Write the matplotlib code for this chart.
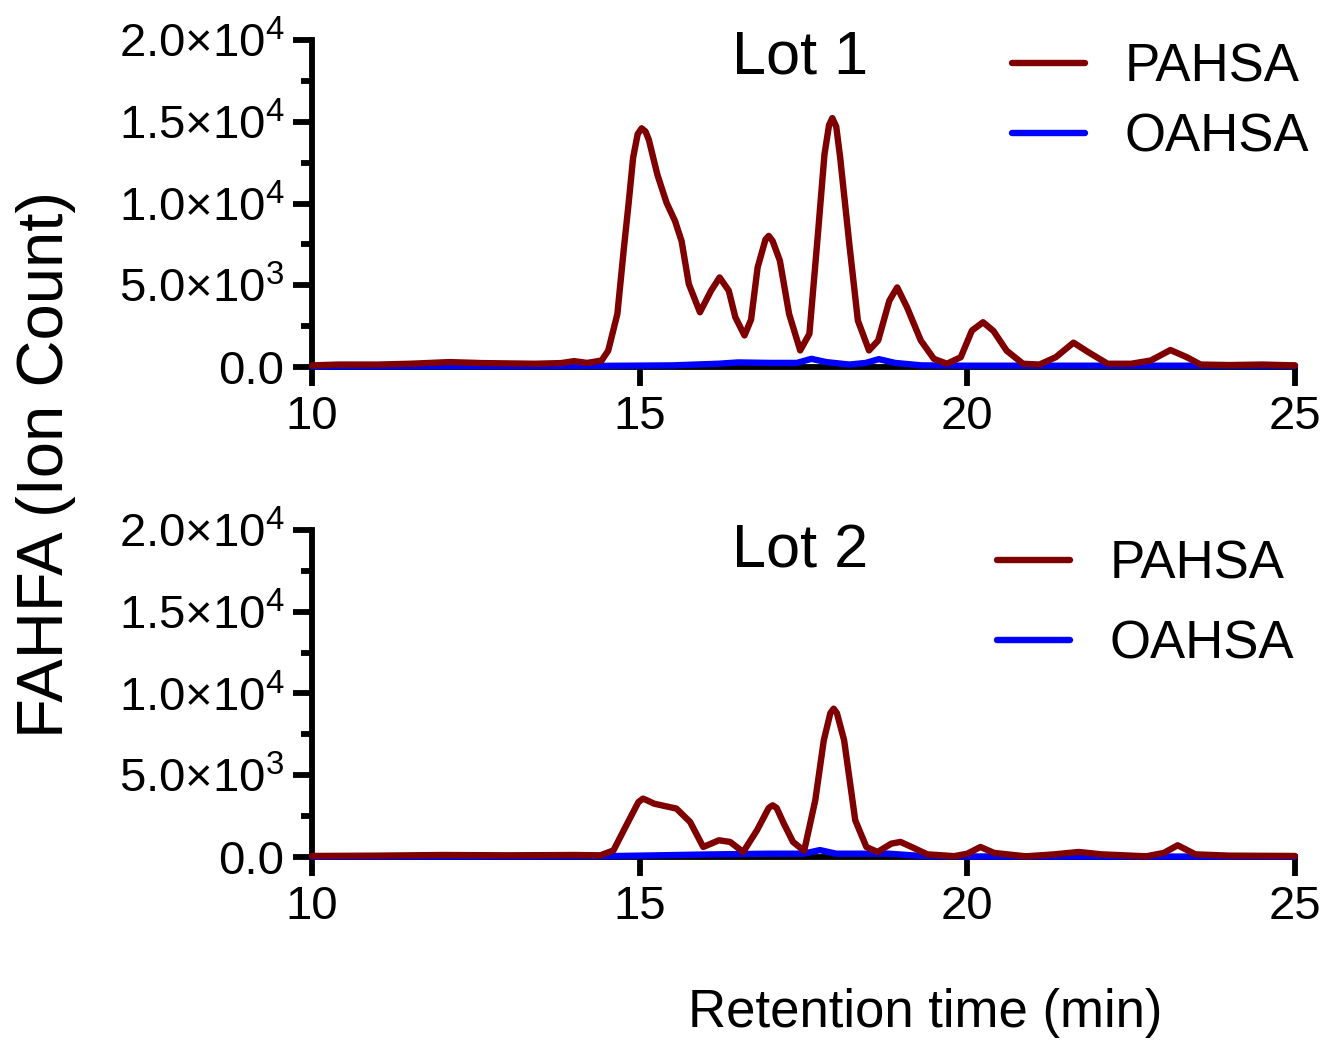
import matplotlib
matplotlib.use("Agg")
import matplotlib.pyplot as plt
from matplotlib.ticker import MultipleLocator

plt.rcParams['font.family'] = ['Liberation Sans', 'DejaVu Sans']
plt.rcParams['mathtext.fontset'] = 'custom'
plt.rcParams['mathtext.rm'] = 'Liberation Sans'
plt.rcParams['mathtext.it'] = 'Liberation Sans'

# Lot 1 - PAHSA (retention time in min, ion count)
lot1_t = [10.0, 10.4, 11.0, 11.5, 12.1, 12.6, 13.4, 13.8, 14.0, 14.2, 14.42, 14.52,
          14.66, 14.76, 14.83, 14.9, 14.97, 15.03, 15.09, 15.14, 15.27, 15.41, 15.54,
          15.64, 15.75, 15.92, 16.09, 16.22, 16.36, 16.46, 16.6, 16.7, 16.8, 16.92,
          16.97, 17.03, 17.14, 17.28, 17.45, 17.59, 17.72, 17.82, 17.89, 17.94, 18.0,
          18.06, 18.2, 18.33, 18.5, 18.64, 18.81, 18.93, 19.08, 19.29, 19.49, 19.69,
          19.9, 20.07, 20.24, 20.4, 20.6, 20.85, 21.1, 21.35, 21.62, 21.85, 22.14,
          22.5, 22.8, 23.1, 23.35, 23.56, 24.0, 24.5, 25.0]
lot1_pahsa = [100, 150, 150, 200, 300, 240, 200, 240, 360, 250, 400, 1000,
              3250, 7300, 9950, 12800, 14250, 14600, 14400, 13900, 11770, 10050, 8930,
              7700, 5075, 3350, 4670, 5480, 4670, 3045, 1930, 2900, 6090, 7800,
              8020, 7700, 6500, 3250, 1015, 2030, 8120, 13000, 14800, 15225, 14700,
              12800, 7500, 2840, 1015, 1625, 4060, 4870, 3650, 1625, 500, 200,
              600, 2230, 2740, 2200, 1000, 200, 150, 600, 1490, 900, 200,
              200, 400, 1040, 600, 150, 120, 150, 100]

# Lot 1 - OAHSA
lot1_ot = [10.0, 12.0, 14.0, 14.8, 15.5, 16.2, 16.5, 17.0, 17.4, 17.62, 17.85, 18.2,
           18.45, 18.65, 18.9, 19.3, 20.0, 22.0, 25.0]
lot1_oahsa = [40, 50, 60, 80, 100, 200, 280, 250, 250, 500, 300, 150,
              250, 480, 250, 100, 80, 80, 80]

# Lot 2 - PAHSA
lot2_t = [10.0, 11.0, 12.0, 13.0, 14.0, 14.4, 14.6, 14.81, 14.98, 15.05, 15.12, 15.22,
          15.56, 15.77, 15.97, 16.21, 16.38, 16.58, 16.79, 16.97, 17.03, 17.09, 17.2,
          17.34, 17.51, 17.68, 17.81, 17.91, 17.96, 18.01, 18.12, 18.29, 18.46, 18.63,
          18.84, 18.98, 19.15, 19.39, 19.8, 20.0, 20.2, 20.41, 20.89, 21.3, 21.7,
          22.05, 22.73, 23.0, 23.21, 23.48, 24.0, 25.0]
lot2_pahsa = [60, 80, 120, 100, 120, 100, 400, 2040, 3350, 3570, 3450, 3260,
              2960, 2140, 610, 1020, 920, 305, 1630, 3000, 3160, 3000, 2040,
              920, 370, 3470, 7140, 8800, 9070, 8800, 7140, 2240, 610, 305,
              815, 920, 610, 160, 50, 200, 610, 245, 40, 150, 305,
              160, 40, 250, 715, 160, 80, 60]

# Lot 2 - OAHSA
lot2_ot = [10.0, 13.0, 14.5, 15.0, 16.0, 17.0, 17.5, 17.75, 18.0, 18.8, 19.3, 20.0, 25.0]
lot2_oahsa = [20, 30, 50, 80, 150, 200, 200, 420, 200, 200, 60, 30, 20]

yticks = [0, 5000, 10000, 15000, 20000]
ytick_labels = ['0.0', r'$5.0{\times}10^{3}$', r'$1.0{\times}10^{4}$',
                r'$1.5{\times}10^{4}$', r'$2.0{\times}10^{4}$']
xticks = [10, 15, 20, 25]

fig = plt.figure(figsize=(13.26, 10.40), dpi=100)
ax1 = fig.add_axes([0.2353, 0.6471, 0.7413, 0.3144])
ax2 = fig.add_axes([0.2353, 0.1760, 0.7413, 0.3144])

red = '#7f0000'
blue = '#0000ff'

panels = [
    (ax1, lot1_t, lot1_pahsa, lot1_ot, lot1_oahsa, 'Lot 1', 18900, (0.712, 0.994), 0.38),
    (ax2, lot2_t, lot2_pahsa, lot2_ot, lot2_oahsa, 'Lot 2', 18650, (0.697, 0.972), 0.57),
]

for ax, t, p, ot, o, title, ty, anchor, lsp in panels:
    ax.plot(ot, o, color=blue, lw=4.6, label='OAHSA', clip_on=False,
            solid_joinstyle='round', solid_capstyle='round', zorder=3)
    ax.plot(t, p, color=red, lw=4.6, label='PAHSA', clip_on=False,
            solid_joinstyle='round', solid_capstyle='round', zorder=4)
    ax.set_xlim(10, 25)
    ax.set_ylim(0, 20000)
    ax.set_xticks(xticks)
    ax.set_yticks(yticks)
    ax.set_yticklabels(ytick_labels)
    ax.yaxis.set_minor_locator(MultipleLocator(2500))
    for s in ['top', 'right']:
        ax.spines[s].set_visible(False)
    for s in ['left', 'bottom']:
        ax.spines[s].set_linewidth(4.2)
    ax.tick_params(axis='both', which='major', width=4.2, length=14, labelsize=34, pad=6)
    ax.tick_params(axis='y', which='minor', width=4.2, length=8)
    ax.text(17.45, ty, title, fontsize=44, ha='center', va='center')
    h, l = ax.get_legend_handles_labels()
    ax.legend(h[::-1], l[::-1], loc='upper left', bbox_to_anchor=anchor, frameon=False,
              fontsize=38, handlelength=1.38, handletextpad=0.75, labelspacing=lsp,
              borderpad=0, borderaxespad=0)

fig.text(0.035, 0.553, 'FAHFA (Ion Count)', rotation=90, fontsize=47,
         ha='center', va='center')
fig.text(0.698, 0.026, 'Retention time (min)', fontsize=38, ha='center', va='center')

fig.savefig('out.png', dpi=100)
